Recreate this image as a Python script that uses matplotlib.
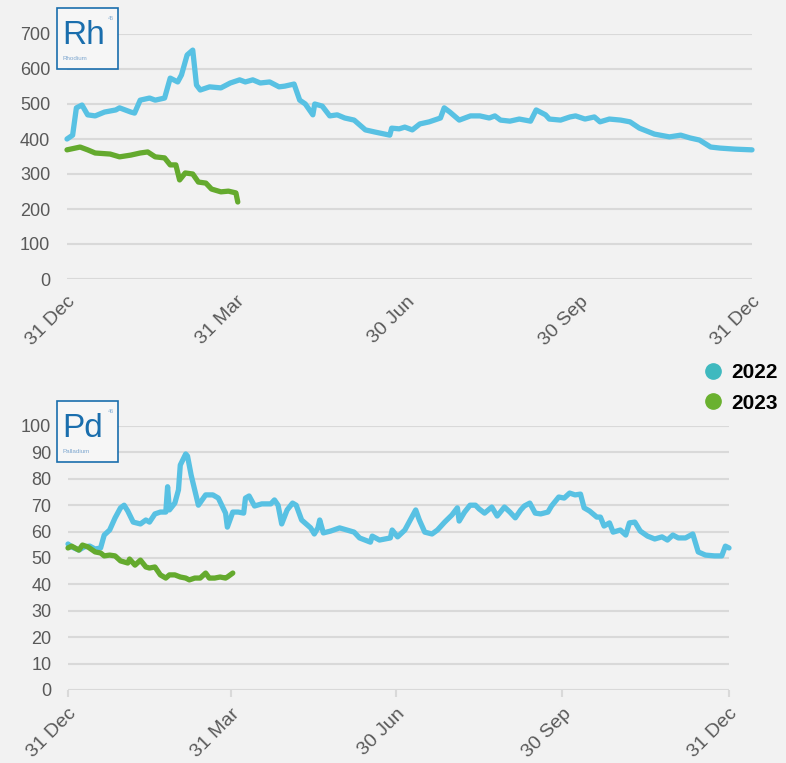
''' Rh and Pd price lines, 2022 vs 2023. '''

import matplotlib.pyplot as plt
from matplotlib.lines import Line2D
from matplotlib.patches import Rectangle

plt.rcParams['font.family'] = ['Liberation Sans', 'DejaVu Sans']

TICK_DAYS = [0, 90, 181, 273, 365]
TICK_LABELS = ['31 Dec', '31 Mar', '30 Jun', '30 Sep', '31 Dec']

# Rhodium, day offsets from 31 Dec
RH_2022_DAYS = [0, 3, 5, 8, 11, 15, 20, 26, 28, 34, 36, 39, 44, 47, 52, 55, 59, 61, 64, 67,
                69, 71, 76, 82, 87, 92, 95, 99, 103, 108, 113, 116, 121, 124, 127, 131, 132,
                136, 140, 144, 148, 153, 159, 164, 172, 173, 177, 180, 184, 188, 193, 199,
                201, 204, 209, 215, 220, 225, 228, 231, 236, 241, 247, 250, 255, 257, 263,
                268, 271, 276, 281, 284, 289, 295, 300, 305, 313, 321, 327, 332, 337, 343,
                348, 356, 365]
RH_2022 = [400, 411, 489, 497, 469, 466, 477, 483, 489, 477, 474, 511, 517, 511, 517, 574,
           563, 583, 640, 654, 554, 540, 549, 546, 560, 569, 563, 569, 560, 563, 549, 551,
           557, 511, 500, 469, 500, 494, 466, 469, 460, 454, 426, 420, 411, 431, 429, 434,
           426, 443, 449, 460, 489, 477, 454, 466, 466, 460, 466, 454, 451, 457, 451, 483,
           469, 457, 454, 463, 466, 457, 463, 449, 457, 454, 449, 431, 414, 406, 411, 403,
           397, 377, 374, 371, 369]
RH_2023_DAYS = [0, 7, 11, 15, 23, 28, 34, 39, 43, 47, 52, 55, 58, 60, 63, 67, 70, 74, 77,
                82, 86, 90, 91]
RH_2023 = [369, 377, 369, 360, 357, 349, 354, 360, 363, 349, 346, 326, 326, 283, 303, 300,
           277, 274, 257, 249, 251, 246, 220]

# Palladium
PD_2022_DAYS = [0, 2, 6, 9, 12, 15, 18, 20, 23, 26, 29, 31, 33, 36, 40, 43, 45, 48, 51, 54,
                55, 56, 59, 61, 62, 65, 66, 68, 72, 76, 80, 83, 87, 88, 91, 94, 97, 98, 100,
                103, 107, 112, 114, 116, 118, 121, 124, 126, 129, 134, 136, 138, 139, 141,
                145, 150, 156, 158, 161, 164, 167, 168, 172, 178, 179, 182, 186, 189, 192,
                194, 197, 201, 204, 208, 212, 215, 216, 219, 222, 225, 227, 230, 234, 237,
                241, 244, 247, 250, 252, 255, 258, 261, 265, 267, 271, 274, 277, 280, 283,
                285, 288, 292, 294, 296, 299, 301, 305, 308, 310, 313, 316, 320, 324, 328,
                331, 334, 337, 341, 345, 348, 352, 357, 361, 363, 365]
PD_2022 = [55.3, 54.2, 53.0, 54.2, 54.5, 53.4, 53.8, 58.7, 60.6, 65.2, 69.0, 70.0, 67.8,
           63.6, 62.9, 64.4, 63.6, 66.7, 67.4, 67.4, 77.0, 68.2, 70.8, 75.8, 85.2, 89.4,
           88.6, 81.4, 70.0, 73.9, 73.9, 72.7, 67.0, 61.7, 67.4, 67.4, 67.0, 72.7, 73.5,
           69.7, 70.5, 70.5, 72.0, 70.0, 62.9, 68.2, 70.8, 70.0, 64.4, 61.4, 59.1, 61.4,
           64.4, 59.5, 60.2, 61.4, 60.2, 59.8, 57.6, 56.8, 56.0, 58.3, 56.8, 57.6, 60.6,
           58.0, 60.6, 64.4, 68.2, 64.4, 59.8, 59.1, 60.6, 63.6, 66.3, 69.0, 64.0, 67.4,
           70.0, 70.0, 68.6, 67.0, 69.3, 65.9, 69.3, 67.4, 65.2, 68.2, 69.7, 70.8, 67.0,
           66.7, 67.4, 69.7, 73.1, 72.7, 74.6, 73.9, 74.2, 69.0, 67.8, 65.5, 65.5, 62.1,
           63.3, 59.8, 60.6, 58.7, 63.3, 63.6, 60.2, 58.3, 57.2, 58.0, 56.8, 58.7, 57.6,
           57.6, 59.1, 52.3, 51.1, 50.8, 50.8, 54.5, 53.8]
PD_2023_DAYS = [0, 2, 6, 8, 11, 15, 18, 20, 23, 26, 29, 33, 34, 37, 40, 43, 45, 48, 51, 54,
                56, 59, 62, 65, 67, 70, 73, 76, 78, 81, 84, 87, 88, 91]
PD_2023 = [53.8, 54.5, 53.0, 54.9, 54.2, 52.3, 51.9, 50.8, 51.1, 50.8, 48.9, 48.1, 49.6,
           47.3, 49.2, 46.6, 46.2, 46.6, 43.6, 42.4, 43.6, 43.6, 42.8, 42.4, 41.7, 42.4,
           42.4, 44.3, 42.4, 42.4, 42.8, 42.4, 42.8, 44.3]

BG = '#f2f2f2'
C_2022 = '#58c1e3'
C_2023 = '#64aa2e'
GRID = '#d9d9d9'
TXT = '#595959'
ELEM = '#1a6ead'


def style_axes(ax, yticks, show_xticks):
    ax.set_facecolor(BG)
    for s in ax.spines.values():
        s.set_visible(False)
    ax.set_xlim(0, 365)
    ax.set_ylim(yticks[0], yticks[-1])
    ax.set_yticks(yticks)
    ax.set_xticks(TICK_DAYS)
    ax.set_xticklabels(TICK_LABELS, rotation=45, ha='right', rotation_mode='anchor')
    ax.grid(axis='y', color=GRID, linewidth=1.5)
    ax.set_axisbelow(True)
    ax.tick_params(axis='y', length=0, pad=12, labelsize=13, labelcolor=TXT)
    if show_xticks:
        ax.tick_params(axis='x', length=5, width=1.5, color=GRID, pad=6,
                       labelsize=14, labelcolor=TXT)
    else:
        ax.tick_params(axis='x', length=0, pad=10, labelsize=14, labelcolor=TXT)


def element_box(fig, x, y, sym, num, name):
    w, h = 61 / 786, 61 / 763
    fig.patches.append(Rectangle((x, y), w, h, transform=fig.transFigure,
                                 facecolor='#f6f6f6', edgecolor=ELEM, linewidth=1.2, zorder=5))
    fig.text(x + 0.007, y + h * 0.55, sym, color=ELEM, fontsize=24, va='center',
             ha='left', zorder=6)
    fig.text(x + w - 0.005, y + h - 0.01, num, color='#8fb4d6', fontsize=4,
             ha='right', va='top', zorder=6)
    fig.text(x + 0.007, y + 0.011, name, color='#7fa8d0', fontsize=4.5,
             ha='left', va='bottom', zorder=6)


def main():
    fig = plt.figure(figsize=(7.86, 7.63), dpi=100, facecolor=BG)
    ax1 = fig.add_axes([67 / 786, 1 - 279 / 763, 685 / 786, 245 / 763])
    ax2 = fig.add_axes([68 / 786, 1 - 690 / 763, 661 / 786, 264 / 763])

    style_axes(ax1, list(range(0, 701, 100)), False)
    style_axes(ax2, list(range(0, 101, 10)), True)

    lw = 3.8
    ax1.plot(RH_2022_DAYS, RH_2022, color=C_2022, lw=lw, solid_joinstyle='round',
             solid_capstyle='round', clip_on=False)
    ax1.plot(RH_2023_DAYS, RH_2023, color=C_2023, lw=lw, solid_joinstyle='round',
             solid_capstyle='round', clip_on=False)
    ax2.plot(PD_2022_DAYS, PD_2022, color=C_2022, lw=lw, solid_joinstyle='round',
             solid_capstyle='round', clip_on=False)
    ax2.plot(PD_2023_DAYS, PD_2023, color=C_2023, lw=lw, solid_joinstyle='round',
             solid_capstyle='round', clip_on=False)

    element_box(fig, 57 / 786, 1 - 69 / 763, 'Rh', '45', 'Rhodium')
    element_box(fig, 57 / 786, 1 - 462 / 763, 'Pd', '46', 'Palladium')

    handles = [Line2D([], [], marker='o', ls='', color='#3fb9bf', markersize=11),
               Line2D([], [], marker='o', ls='', color='#6ab12f', markersize=11)]
    fig.legend(handles, ['2022', '2023'], loc='center left',
               bbox_to_anchor=(682 / 786, 1 - 388 / 763), frameon=False,
               prop={'weight': 'bold', 'size': 15}, handletextpad=0.25,
               labelspacing=0.55, handlelength=1.2)

    fig.savefig('out.png', dpi=100, facecolor=BG)


if __name__ == '__main__':
    main()
